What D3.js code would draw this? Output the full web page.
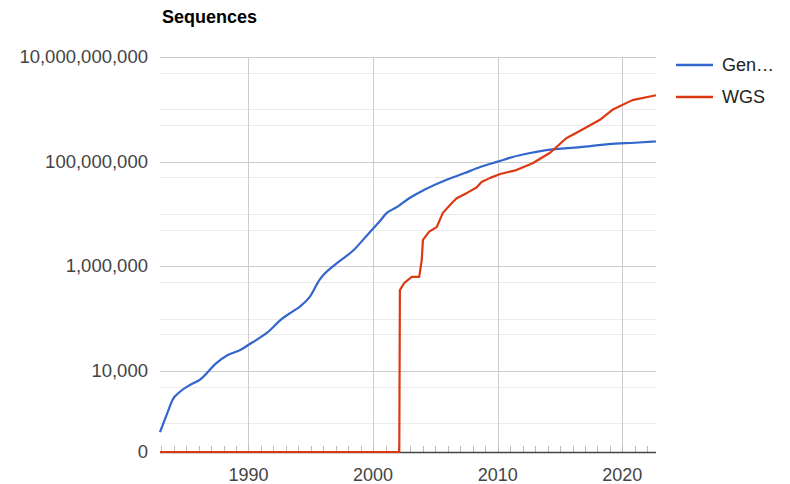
<!DOCTYPE html>
<html>
<head>
<meta charset="utf-8">
<script src="https://cdn.jsdelivr.net/npm/d3@7/dist/d3.min.js"></script>
<style>
  html, body { margin: 0; padding: 0; background: #fff; }
  svg { display: block; font-family: "Liberation Sans", Arial, sans-serif; }
</style>
</head>
<body>
<svg id="chart" width="790" height="484"></svg>
<script>
// ---- Data ----
const seriesNames = ["Gen…", "WGS"];

const genbankYears = [1982.9, 1983.5, 1983.9, 1984.5, 1985.3, 1986.1, 1987.4, 1988.3, 1989.3, 1990.3,
  1991.5, 1992.7, 1993.5, 1994.1, 1994.9, 1995.7, 1997.1, 1998.4, 1999.7, 2000.5,
  2001.1, 2001.9, 2002.9, 2004.0, 2005.9, 2007.3, 2008.6, 2010.0, 2011.2, 2012.5,
  2013.9, 2016.6, 2019.2, 2021.0, 2022.7];
const genbankValues = [680, 1600, 2800, 4000, 5400, 6800, 14000, 20000, 25000, 35000,
  54000, 100000, 135000, 168000, 257000, 550000, 1150000, 2000000, 4400000, 7100000,
  10500000, 13500000, 20000000, 28000000, 45000000, 60000000, 79000000, 100000000, 123000000, 145000000,
  166000000, 190000000, 219000000, 230000000, 245000000];

const wgsYears = [1982.9, 2002.1, 2002.15, 2002.5, 2003.1, 2003.7, 2003.9, 2004.0, 2004.5, 2005.1,
  2005.6, 2006.3, 2006.7, 2007.5, 2008.3, 2008.7, 2009.4, 2010.2, 2011.5, 2012.8,
  2014.2, 2015.5, 2016.8, 2018.2, 2019.2, 2020.8, 2022.7];
const wgsValues = [0, 0, 350000, 480000, 630000, 630000, 1300000, 3200000, 4600000, 5600000,
  10500000, 16000000, 20000000, 25000000, 32000000, 41000000, 49000000, 58000000, 69000000, 93000000,
  148000000, 280000000, 410000000, 630000000, 980000000, 1500000000, 1860000000];

const yMajorTicks = [1e4, 1e6, 1e8, 1e10];
const yMinorTicks = [1e3, 5e3, 5e4, 1e5, 5e5, 5e6, 1e7, 5e7, 5e8, 1e9, 5e9];
const xLabelTicks = [1990, 2000, 2010, 2020];
const yearTicks = d3.range(1983, 2023);
const yAxisMin = 283;   // value at the bottom edge of the log axis, where 0 is drawn
const yAxisMax = 1e10;

// ---- Layout ----
const colors = ["#3366cc", "#dc3912"];
const plotLeft = 160, plotRight = 656, plotTop = 57, plotBottom = 452;

const svg = d3.select("#chart");

const x = d3.scaleLinear()
  .domain([genbankYears[0], genbankYears[genbankYears.length - 1]])
  .range([plotLeft, plotRight]);
const y = d3.scaleLog()
  .domain([yAxisMin, yAxisMax])
  .range([plotBottom, plotTop])
  .clamp(true);

// minor gridlines
svg.append("g").selectAll("line").data(yMinorTicks).join("line")
  .attr("x1", plotLeft).attr("x2", plotRight)
  .attr("y1", d => Math.round(y(d)) + 0.5).attr("y2", d => Math.round(y(d)) + 0.5)
  .attr("stroke", "#ebebeb").attr("stroke-width", 1);

// major gridlines
svg.append("g").selectAll("line").data(yMajorTicks).join("line")
  .attr("x1", plotLeft).attr("x2", plotRight)
  .attr("y1", d => Math.round(y(d)) + 0.5).attr("y2", d => Math.round(y(d)) + 0.5)
  .attr("stroke", "#cccccc").attr("stroke-width", 1);

// vertical gridlines
svg.append("g").selectAll("line").data(xLabelTicks).join("line")
  .attr("x1", d => Math.round(x(d)) + 0.5).attr("x2", d => Math.round(x(d)) + 0.5)
  .attr("y1", plotTop).attr("y2", plotBottom)
  .attr("stroke", "#cccccc").attr("stroke-width", 1);

// year ticks on the baseline
svg.append("g").selectAll("line").data(yearTicks).join("line")
  .attr("x1", d => Math.round(x(d)) + 0.5).attr("x2", d => Math.round(x(d)) + 0.5)
  .attr("y1", plotBottom - 6).attr("y2", plotBottom)
  .attr("stroke", "#bbbbbb").attr("stroke-width", 1);

// baseline
svg.append("line")
  .attr("x1", plotLeft).attr("x2", plotRight)
  .attr("y1", plotBottom + 0.5).attr("y2", plotBottom + 0.5)
  .attr("stroke", "#444444").attr("stroke-width", 1.5);

// y labels
const yLabelValues = [0].concat(yMajorTicks);
svg.append("g").selectAll("text").data(yLabelValues).join("text")
  .attr("x", 148)
  .attr("y", d => y(d) + 6)
  .attr("text-anchor", "end")
  .attr("font-size", 18.5)
  .attr("fill", "#444444")
  .text(d => d3.format(",")(d));

// x labels
svg.append("g").selectAll("text").data(xLabelTicks).join("text")
  .attr("x", d => x(d))
  .attr("y", 481)
  .attr("text-anchor", "middle")
  .attr("font-size", 18)
  .attr("fill", "#444444")
  .text(d => d);

// title
svg.append("text")
  .attr("x", 162).attr("y", 23)
  .attr("font-size", 18)
  .attr("font-weight", "bold")
  .attr("fill", "#000")
  .text("Sequences");

// lines
const curves = [d3.curveMonotoneX, d3.curveLinear];
const series = [
  d3.zip(genbankYears, genbankValues),
  d3.zip(wgsYears, wgsValues)
];
svg.append("g").selectAll("path").data(series).join("path")
  .attr("d", (d, i) => d3.line().curve(curves[i]).x(p => x(p[0])).y(p => y(p[1]))(d))
  .attr("fill", "none")
  .attr("stroke", (d, i) => colors[i])
  .attr("stroke-width", 2.2)
  .attr("stroke-linejoin", "round");

// legend
const legend = svg.append("g").selectAll("g").data(seriesNames).join("g")
  .attr("transform", (d, i) => `translate(676, ${65 + i * 32})`);
legend.append("line")
  .attr("x1", 0).attr("x2", 37).attr("y1", 0).attr("y2", 0)
  .attr("stroke", (d, i) => colors[i]).attr("stroke-width", 2.5);
legend.append("text")
  .attr("x", 46).attr("y", 6)
  .attr("font-size", 18)
  .attr("fill", "#222222")
  .text(d => d);
</script>
</body>
</html>
